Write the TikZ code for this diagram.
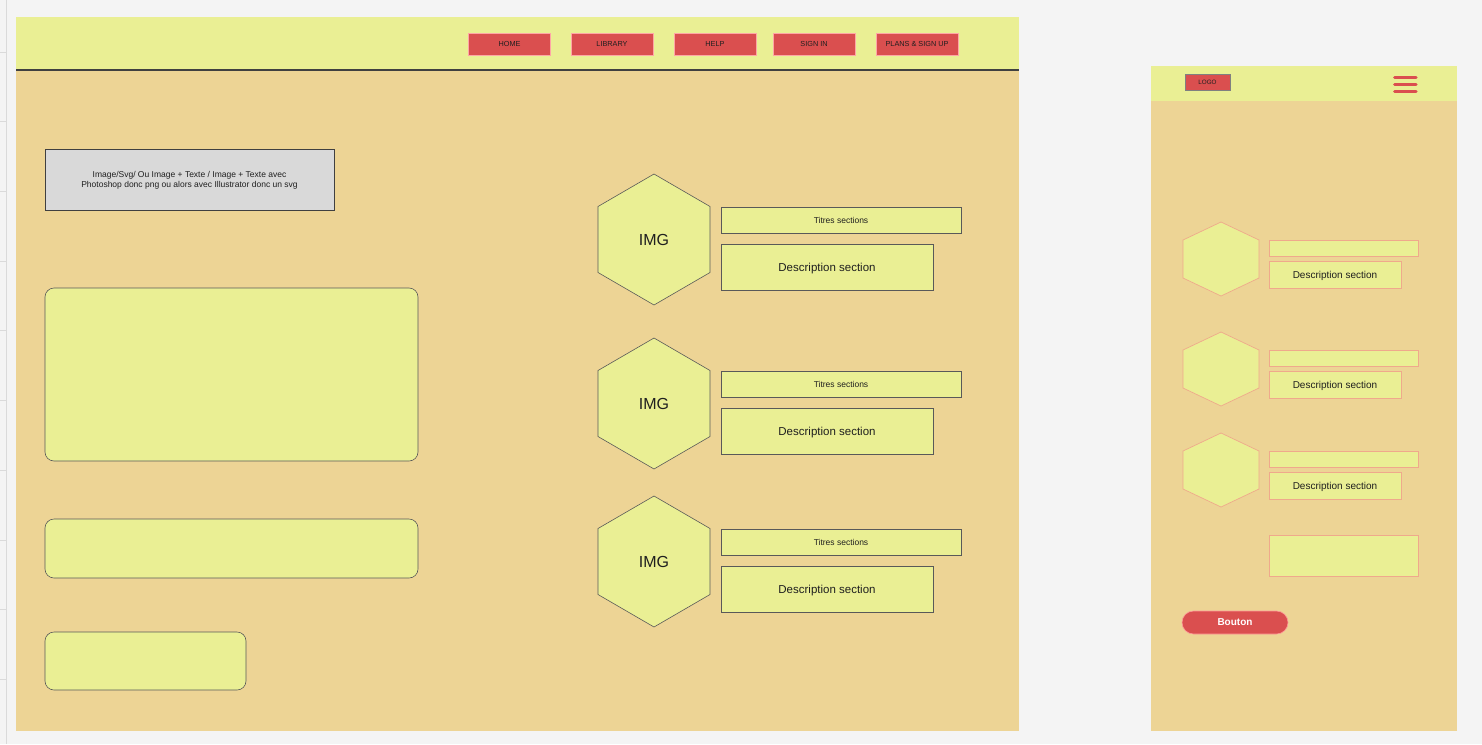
\documentclass[tikz,border=0pt]{standalone}
\usepackage{fontspec}
\setmainfont{Liberation Sans}
\begin{document}
\begin{tikzpicture}[x=1pt,y=-1pt,
  every node/.style={inner sep=0pt,outer sep=0pt,text=black!88,text depth=0pt},
  navbtn/.style={draw=red!35!white,line width=0.6pt,fill=btnred,minimum width=82pt,minimum height=22pt,font=\fontsize{7.3}{8}\selectfont,text=black!88},
  darkbox/.style={draw=black!65,line width=0.6pt,fill=ylw},
  roundbox/.style={draw=black!65,line width=0.6pt,fill=ylw,rounded corners=9pt},
  pinkbox/.style={draw=salmon,line width=0.7pt,fill=ylw},
  hexd/.style={draw=black!65,line width=0.6pt,fill=ylw},
  hexm/.style={draw=salmon,line width=0.7pt,fill=ylw},
  titletxt/.style={font=\fontsize{8.5}{10}\selectfont},
  desctxt/.style={font=\fontsize{11.5}{13}\selectfont},
  mdesctxt/.style={font=\fontsize{10}{12}\selectfont}
]
\definecolor{pagebg}{HTML}{F4F4F4}
\definecolor{ylw}{HTML}{EAEF94}
\definecolor{org}{HTML}{EDD495}
\definecolor{btnred}{HTML}{DA4F4F}
\definecolor{greybox}{HTML}{D9D9D9}
\definecolor{salmon}{HTML}{EFA98C}
\definecolor{rulerln}{HTML}{DADADA}

% canvas
\fill[pagebg] (0,0) rectangle (1482,744);
\useasboundingbox (0,0) rectangle (1482,744);

% ruler at the left edge
\draw[rulerln,line width=0.8pt] (6.5,0) -- (6.5,744);
\foreach \ty in {52,121,191,261,330,400,470,540,609,679}
  \draw[rulerln,line width=0.8pt] (0,\ty) -- (6.5,\ty);

% ---------- desktop frame ----------
\fill[org] (16,17) rectangle (1019,731);
\fill[ylw] (16,17) rectangle (1019,69);
\draw[black!75,line width=2pt] (16,69.5) -- (1019,69.5);

\node[navbtn] (home) at (509.5,44) {HOME};
\node[navbtn] (library) at (612,44) {LIBRARY};
\node[navbtn] (help) at (715,44) {HELP};
\node[navbtn] (signin) at (814,44) {SIGN IN};
\node[navbtn] (plans) at (917,44) {PLANS \& SIGN UP};

\node[draw=black!75,line width=0.7pt,fill=greybox,minimum width=289pt,minimum height=61pt,
      align=center,font=\fontsize{8.5}{10}\selectfont] (hero) at (189.5,179.5)
  {Image/Svg/ Ou Image + Texte / Image + Texte avec\\Photoshop donc png ou alors avec Illustrator donc un svg};

\node[roundbox,minimum width=373pt,minimum height=173pt] (bigbox) at (231.5,374.5) {};
\node[roundbox,minimum width=373pt,minimum height=59pt] (midbox) at (231.5,548.5) {};
\node[roundbox,minimum width=201pt,minimum height=58pt] (smallbox) at (145.5,661) {};

% three desktop sections: hexagon, title bar, description
\foreach \i/\cy in {1/239.5,2/403.5,3/561.5} {
  \draw[hexd] (654,\cy-65.5) -- (710,\cy-33) -- (710,\cy+33) -- (654,\cy+65.5)
              -- (598,\cy+33) -- (598,\cy-33) -- cycle;
  \node[font=\fontsize{16}{18}\selectfont] (img\i) at (654,\cy) {IMG};
  \node[darkbox,titletxt,minimum width=240pt,minimum height=26pt] (title\i) at (841,\cy-19.5) {Titres sections};
  \node[darkbox,desctxt,minimum width=212pt,minimum height=46pt] (desc\i) at (827,\cy+27.5) {Description section};
}

% ---------- mobile frame ----------
\fill[org] (1151,66) rectangle (1457,731);
\fill[ylw] (1151,66) rectangle (1457,101);
\node[draw=black!50,line width=0.5pt,fill=btnred,minimum width=45pt,minimum height=16pt,
      font=\fontsize{6.3}{7}\selectfont] (logo) at (1207.5,82) {LOGO};
\foreach \hy in {77,84,91}
  \draw[btnred,line width=3pt,line cap=round] (1394.5,\hy) -- (1416,\hy);

\foreach \i/\cy in {1/259,2/369,3/470} {
  \draw[hexm] (1221,\cy-37) -- (1259,\cy-19) -- (1259,\cy+19) -- (1221,\cy+37)
              -- (1183,\cy+19) -- (1183,\cy-19) -- cycle;
  \node[pinkbox,minimum width=149pt,minimum height=16pt] (mtitle\i) at (1343.5,\cy-11) {};
  \node[pinkbox,mdesctxt,minimum width=132pt,minimum height=27pt] (mdesc\i) at (1335,\cy+15.5) {Description section};
}

\node[pinkbox,minimum width=149pt,minimum height=41pt] (mbox) at (1343.5,555.5) {};
\node[draw=red!40!white,line width=0.6pt,fill=btnred,rounded corners=11.5pt,minimum width=106pt,minimum height=23pt,
      text=white,font=\bfseries\fontsize{10}{12}\selectfont] (bouton) at (1235,622.5) {Bouton};

\end{tikzpicture}
\end{document}
